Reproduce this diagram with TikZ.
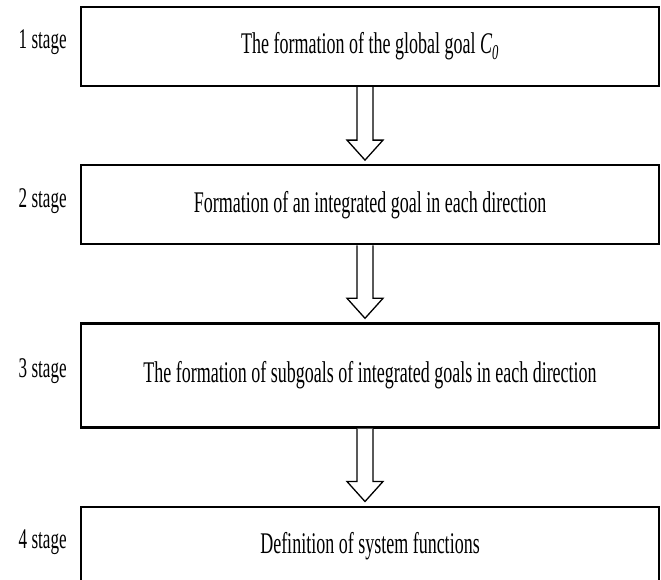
\documentclass[tikz,border=0pt]{standalone}
\usepackage{fontspec}
\setmainfont{Liberation Serif}
\usepackage{graphicx}
\usepackage{tikz}
\usetikzlibrary{positioning}
\newcommand{\narrow}[1]{\scalebox{0.6}[1]{#1}}
\tikzset{
  stage box/.style={rectangle,draw,line width=2.2pt,minimum width=578pt,minimum height=79pt,inner sep=0pt,font=\fontsize{30}{36}\selectfont},
  stage label/.style={inner sep=0pt,font=\fontsize{28.5}{34}\selectfont},
  hollow/.style={draw,fill=white,line width=1.3pt,line join=miter}
}

\begin{document}
\begin{tikzpicture}
        \useasboundingbox (0,0) rectangle (661pt,-579pt);
        \node [stage box] (1) at (370pt,-46.5pt) {\narrow{The formation of the global goal \textit{C\textsubscript{0}}}};
        \node [stage box,below=77pt of 1] (2) {\narrow{Formation of an integrated goal in each direction}};
        \node [stage box,minimum height=104pt,below=77pt of 2] (3) {\narrow{The formation of subgoals of integrated goals in each direction}};
        \node [stage box,below=77pt of 3] (4) {\narrow{Definition of system functions}};
        \node [stage label,left=13pt of 1.west,yshift=4pt] (5) {\narrow{1 stage}};
        \node [stage label,left=13pt of 2.west,yshift=4pt] (6) {\narrow{2 stage}};
        \node [stage label,left=13pt of 3.west,yshift=4pt] (7) {\narrow{3 stage}};
        \node [stage label,left=13pt of 4.west,yshift=4pt] (8) {\narrow{4 stage}};
        \draw [hollow] ([xshift=-13pt]1.south) -- ([xshift=-13pt,yshift=24pt]2.north) -- ([xshift=-23pt,yshift=24pt]2.north)
          -- ([xshift=-5pt,yshift=4pt]2.north) -- ([xshift=13pt,yshift=24pt]2.north) -- ([xshift=3pt,yshift=24pt]2.north) -- ([xshift=3pt]1.south);
        \draw [hollow] ([xshift=-13pt]2.south) -- ([xshift=-13pt,yshift=24pt]3.north) -- ([xshift=-23pt,yshift=24pt]3.north)
          -- ([xshift=-5pt,yshift=4pt]3.north) -- ([xshift=13pt,yshift=24pt]3.north) -- ([xshift=3pt,yshift=24pt]3.north) -- ([xshift=3pt]2.south);
        \draw [hollow] ([xshift=-13pt]3.south) -- ([xshift=-13pt,yshift=24pt]4.north) -- ([xshift=-23pt,yshift=24pt]4.north)
          -- ([xshift=-5pt,yshift=4pt]4.north) -- ([xshift=13pt,yshift=24pt]4.north) -- ([xshift=3pt,yshift=24pt]4.north) -- ([xshift=3pt]3.south);
      \end{tikzpicture}
\end{document}
